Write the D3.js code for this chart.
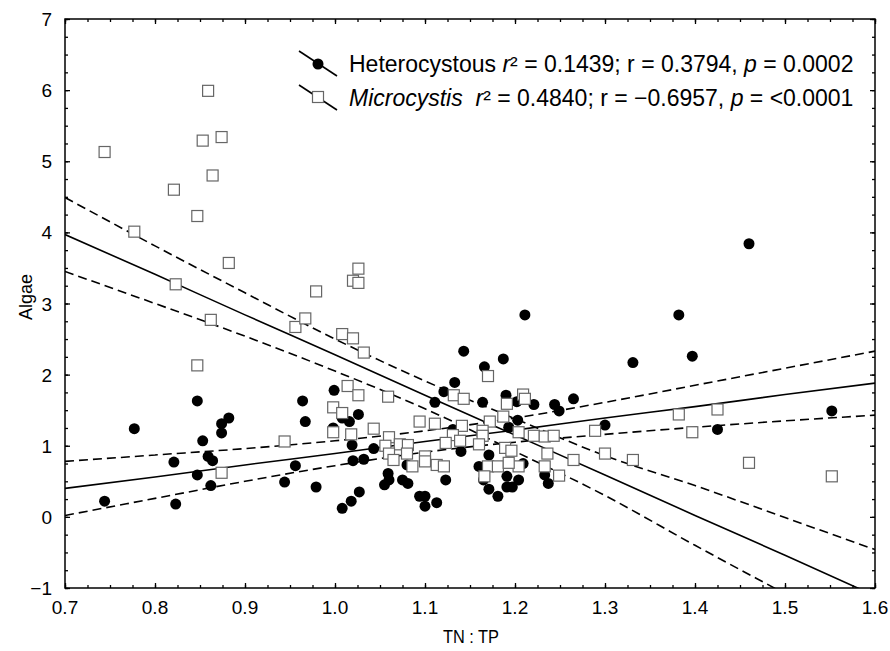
<!DOCTYPE html>
<html>
<head>
<meta charset="utf-8">
<script src="https://cdn.jsdelivr.net/npm/d3@7"></script>
<style>
  body { margin: 0; background: #fff; }
  svg { display: block; font-family: "Liberation Sans", Arial, sans-serif; }
</style>
</head>
<body>
<svg id="chart"></svg>
<script>
// Heterocystous (filled dots)
const hetX = [0.777,0.847,0.874,0.882,0.874,0.853,0.821,0.859,0.864,0.847,0.862,0.744,0.823,0.944,0.956,
  0.964,0.967,0.999,1.211,1.143,1.187,1.166,1.133,1.121,1.111,1.164,1.190,1.202,1.221,1.244,1.249,1.265,
  1.203,1.193,1.008,1.016,1.026,0.998,1.019,1.043,1.020,1.032,0.979,1.008,1.018,1.027,1.059,1.060,1.055,
  1.075,1.081,1.080,1.094,1.100,1.100,1.113,1.123,1.140,1.131,1.171,1.160,1.165,1.171,1.181,1.191,1.191,
  1.197,1.204,1.209,1.233,1.237,1.300,1.460,1.382,1.331,1.397,1.425,1.552];
const hetY = [1.24,1.63,1.31,1.39,1.18,1.07,0.77,0.85,0.79,0.59,0.44,0.22,0.18,0.49,0.72,
  1.63,1.34,1.78,2.84,2.33,2.22,2.11,1.89,1.76,1.61,1.61,1.71,1.62,1.58,1.58,1.49,1.66,
  1.36,1.26,1.39,1.34,1.44,1.25,1.01,0.96,0.79,0.81,0.42,0.12,0.22,0.35,0.61,0.52,0.45,
  0.52,0.47,0.73,0.29,0.29,0.15,0.20,0.52,0.92,1.23,0.87,0.71,0.52,0.39,0.29,0.57,0.42,
  0.42,0.52,0.75,0.59,0.47,1.29,3.84,2.84,2.17,2.26,1.23,1.49];

// Microcystis (open squares)
const micX = [0.744,0.859,0.853,0.874,0.864,0.821,0.847,0.777,0.882,0.823,0.979,0.862,0.956,0.967,1.008,
  1.020,1.026,1.020,1.026,1.032,1.170,1.014,1.026,1.059,0.998,1.008,1.132,1.143,1.191,1.209,1.211,1.187,
  1.172,1.094,1.111,0.998,1.043,1.018,1.060,1.141,1.131,1.164,1.164,1.204,1.221,1.233,1.243,1.289,1.056,
  1.072,1.081,1.123,1.139,1.160,1.189,1.196,1.060,1.080,1.100,1.100,1.065,1.236,1.265,1.086,1.113,1.121,
  1.170,1.181,1.204,1.193,1.233,1.166,1.249,0.847,0.944,0.874,1.382,1.425,1.397,1.300,1.331,1.460,1.552];
const micY = [5.13,5.99,5.29,5.34,4.80,4.60,4.23,4.01,3.57,3.27,3.17,2.77,2.67,2.79,2.57,
  2.51,3.49,3.32,3.29,2.31,1.98,1.84,1.71,1.69,1.54,1.46,1.71,1.66,1.59,1.72,1.66,1.41,
  1.34,1.34,1.31,1.19,1.24,1.16,1.12,1.28,1.15,1.21,1.14,1.19,1.14,1.13,1.14,1.21,1.00,
  1.02,1.01,1.04,1.07,1.02,0.97,0.93,0.89,0.89,0.85,0.78,0.80,0.89,0.80,0.71,0.73,0.71,
  0.71,0.71,0.71,0.76,0.71,0.57,0.58,2.13,1.06,0.62,1.44,1.51,1.19,0.89,0.80,0.76,0.57];

// regression lines and 95% bands, read at these TN:TP values
const fitX   = [0.7, 0.8, 0.9, 1.0, 1.1, 1.2, 1.3, 1.4, 1.5, 1.6];
const hetFit = [0.40, 0.56, 0.73, 0.89, 1.06, 1.22, 1.39, 1.55, 1.72, 1.88];
const hetLo  = [0.02, 0.26, 0.50, 0.72, 0.91, 1.05, 1.16, 1.26, 1.35, 1.43];
const hetHi  = [0.78, 0.87, 0.96, 1.07, 1.21, 1.39, 1.61, 1.85, 2.09, 2.33];
const micFit = [3.97, 3.41, 2.84, 2.28, 1.71, 1.15, 0.59, 0.02, -0.54, -1.11];
const micLo  = [3.45, 3.00, 2.54, 2.05, 1.52, 0.92, 0.30, -0.40, -1.08, -1.76];
const micHi  = [4.49, 3.81, 3.15, 2.50, 1.91, 1.38, 0.86, 0.44, -0.01, -0.46];

const xTicks = [0.7, 0.8, 0.9, 1.0, 1.1, 1.2, 1.3, 1.4, 1.5, 1.6];
const yTicks = [-1, 0, 1, 2, 3, 4, 5, 6, 7];

const width = 890, height = 651;
const margin = { top: 19, right: 15, bottom: 63, left: 65 };
const svg = d3.select("#chart").attr("width", width).attr("height", height);

const x = d3.scaleLinear().domain([0.7, 1.6]).range([margin.left, width - margin.right]);
const y = d3.scaleLinear().domain([-1, 7]).range([height - margin.bottom, margin.top]);

const pBottom = y(-1), pTop = y(7), pLeft = x(0.7), pRight = x(1.6);

svg.append("defs").append("clipPath").attr("id", "plot")
  .append("rect")
  .attr("x", pLeft).attr("y", pTop)
  .attr("width", pRight - pLeft).attr("height", pBottom - pTop);

// ticks (inside, on all four sides)
const minorX = d3.range(0, 37).map(i => 0.7 + i * 0.025);
const minorY = d3.range(0, 33).map(i => -1 + i * 0.25);

function tickAxis(axisFn, scale, ticks, size, tr) {
  svg.append("g")
    .attr("transform", tr)
    .call(axisFn(scale).tickValues(ticks).tickSize(size).tickFormat(""))
    .call(g => g.select(".domain").remove())
    .selectAll("line").attr("stroke", "#000").attr("stroke-width", 1.3);
}
tickAxis(d3.axisTop, x, minorX, 3, `translate(0,${pBottom})`);
tickAxis(d3.axisTop, x, xTicks, 5, `translate(0,${pBottom})`);
tickAxis(d3.axisBottom, x, minorX, 3, `translate(0,${pTop})`);
tickAxis(d3.axisBottom, x, xTicks, 5, `translate(0,${pTop})`);
tickAxis(d3.axisRight, y, minorY, 3, `translate(${pLeft},0)`);
tickAxis(d3.axisRight, y, yTicks, 5, `translate(${pLeft},0)`);
tickAxis(d3.axisLeft, y, minorY, 3, `translate(${pRight},0)`);
tickAxis(d3.axisLeft, y, yTicks, 5, `translate(${pRight},0)`);

// tick labels
svg.append("g").selectAll("text")
  .data(xTicks).enter().append("text")
  .attr("x", d => x(d)).attr("y", pBottom + 26)
  .attr("text-anchor", "middle")
  .style("font-size", "19px")
  .text(d => d.toFixed(1));

svg.append("g").selectAll("text")
  .data(yTicks).enter().append("text")
  .attr("x", pLeft - 13).attr("y", d => y(d) + 7)
  .attr("text-anchor", "end")
  .style("font-size", "19px")
  .text(d => d < 0 ? "\u2212" + Math.abs(d) : d);

svg.append("text")
  .attr("transform", "translate(32,297) rotate(-90)")
  .attr("text-anchor", "middle")
  .style("font-size", "18px")
  .text("Algae");

svg.append("text")
  .attr("x", 471).attr("y", pBottom + 55)
  .attr("text-anchor", "middle")
  .attr("textLength", 56).attr("lengthAdjust", "spacingAndGlyphs")
  .style("font-size", "18px")
  .text("TN : TP");

// lines
const plot = svg.append("g").attr("clip-path", "url(#plot)");
const lineOf = vals => d3.line()
  .x((d, i) => x(fitX[i]))
  .y(d => y(d))
  .curve(d3.curveMonotoneX)(vals);

[hetFit, micFit].forEach(v => {
  plot.append("path").attr("d", lineOf(v))
    .attr("fill", "none").attr("stroke", "#000").attr("stroke-width", 1.6);
});
[hetLo, hetHi, micLo, micHi].forEach(v => {
  plot.append("path").attr("d", lineOf(v))
    .attr("fill", "none").attr("stroke", "#000").attr("stroke-width", 1.6)
    .attr("stroke-dasharray", "9,5");
});

// points
const het = hetX.map((d, i) => ({ x: d, y: hetY[i] }));
const mic = micX.map((d, i) => ({ x: d, y: micY[i] }));
const sq = 11;

plot.selectAll(".dot")
  .data(het).enter().append("circle")
  .attr("class", "dot")
  .attr("cx", d => x(d.x)).attr("cy", d => y(d.y))
  .attr("r", 5.5)
  .attr("fill", "#000");

plot.selectAll(".sq")
  .data(mic).enter().append("rect")
  .attr("class", "sq")
  .attr("x", d => x(d.x) - sq / 2).attr("y", d => y(d.y) - sq / 2)
  .attr("width", sq).attr("height", sq)
  .attr("fill", "#fff").attr("stroke", "#666").attr("stroke-width", 1.2);

// frame
svg.append("rect")
  .attr("x", pLeft).attr("y", pTop)
  .attr("width", pRight - pLeft).attr("height", pBottom - pTop)
  .attr("fill", "none").attr("stroke", "#000").attr("stroke-width", 1.5);

// legend
const leg = svg.append("g");
leg.append("line").attr("x1", 299).attr("y1", 51).attr("x2", 337).attr("y2", 76)
  .attr("stroke", "#000").attr("stroke-width", 1.6);
leg.append("circle").attr("cx", 318).attr("cy", 64).attr("r", 5.5).attr("fill", "#000");
leg.append("line").attr("x1", 299).attr("y1", 85).attr("x2", 337).attr("y2", 110)
  .attr("stroke", "#000").attr("stroke-width", 1.6);
leg.append("rect").attr("x", 318 - sq / 2).attr("y", 97 - sq / 2).attr("width", sq).attr("height", sq)
  .attr("fill", "#fff").attr("stroke", "#666").attr("stroke-width", 1.2);

const t1 = leg.append("text").attr("x", 349).attr("y", 72).style("font-size", "23px");
t1.append("tspan").text("Heterocystous ");
t1.append("tspan").style("font-style", "italic").text("r");
t1.append("tspan").text("\u00b2 = 0.1439; r = 0.3794, ");
t1.append("tspan").style("font-style", "italic").text("p");
t1.append("tspan").text(" = 0.0002");

const t2 = leg.append("text").attr("x", 349).attr("y", 106).style("font-size", "23px");
t2.append("tspan").style("font-style", "italic").text("Microcystis");
t2.append("tspan").text("\u00a0 ");
t2.append("tspan").style("font-style", "italic").text("r");
t2.append("tspan").text("\u00b2 = 0.4840; r = \u22120.6957, ");
t2.append("tspan").style("font-style", "italic").text("p");
t2.append("tspan").text(" = <0.0001");
</script>
</body>
</html>
